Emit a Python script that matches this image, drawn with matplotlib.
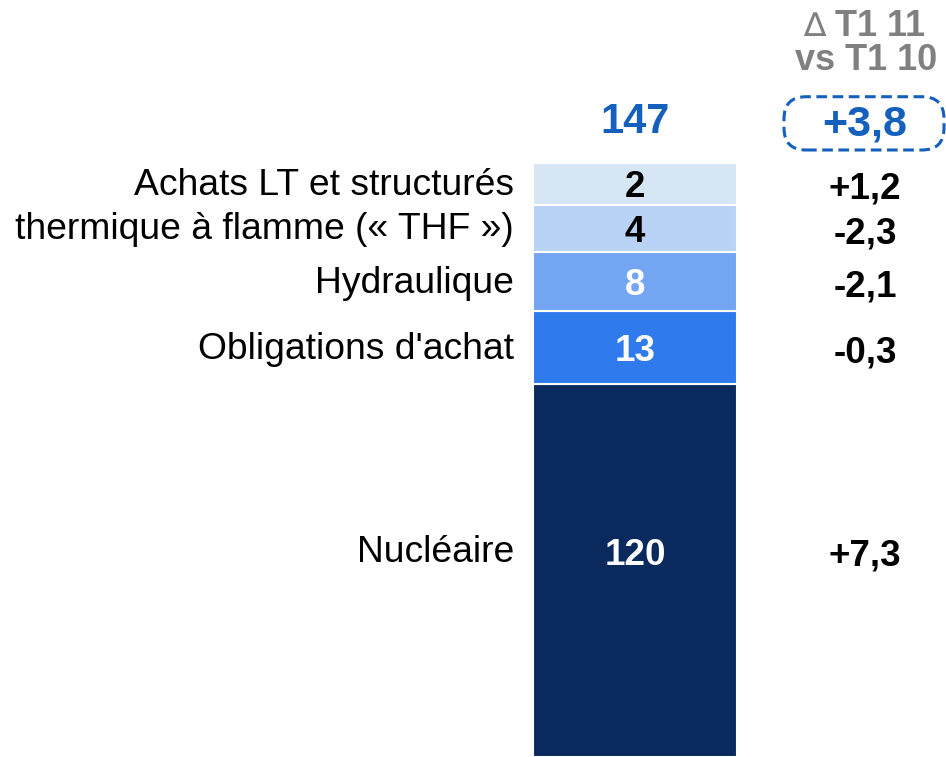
import matplotlib
matplotlib.use('Agg')
import matplotlib.pyplot as plt
from matplotlib.patches import FancyBboxPatch

plt.rcParams['font.family'] = ['Liberation Sans', 'DejaVu Sans']

# data, bottom to top
labels = ['Nucléaire', "Obligations d'achat", 'Hydraulique',
          'thermique à flamme (« THF »)', 'Achats LT et structurés']
values = [120, 13, 8, 4, 2]
deltas = ['+7,3', '-0,3', '-2,1', '-2,3', '+1,2']
total = 147
total_delta = '+3,8'
header_1 = 'T1 11'
header_2 = 'vs T1 10'

colors = ['#0A2A5E', '#2F7AEC', '#73A5F2', '#B9D3F7', '#D6E6F4']
text_colors = ['white', 'white', 'white', 'black', 'black']
blue = '#1560BD'
grey = '#808080'
pad = 13  # small segments are drawn a bit taller so the labels fit

fig = plt.figure(figsize=(9.46, 7.57), dpi=100)
ax = fig.add_axes([0, 0, 1, 1])
ax.set_xlim(0, 946)
ax.set_ylim(0, 270)
ax.axis('off')

bar_x = 635
bottom = 0
for lab, v, d, c, tc in zip(labels, values, deltas, colors, text_colors):
    h = v + pad
    ax.bar(bar_x, h, width=204, bottom=bottom, color=c,
           edgecolor='white', linewidth=1.5)
    # labels sit a little below the middle, and higher up in the tall segment
    yc = bottom + min(h / 2, 61) - 1.5 if v < 100 else bottom + h - 61
    ax.text(bar_x, yc, str(v), ha='center', va='center',
            fontsize=26.5, fontweight='bold', color=tc)
    ax.text(514, yc + 1, lab, ha='right', va='center', fontsize=26.8,
            color='black')
    ax.text(865, yc - 0.3, d, ha='center', va='center',
            fontsize=26.5, fontweight='bold', color='black')
    bottom += h

# total above the bar
ax.text(bar_x, bottom + 14.5, str(total), ha='center', va='center',
        fontsize=30, fontweight='bold', color=blue)
ax.text(865, bottom + 13.5, total_delta, ha='center', va='center',
        fontsize=31, fontweight='bold', color=blue)
box = FancyBboxPatch((784, bottom + 4.5), 160, 19,
                     boxstyle='round,pad=0,rounding_size=22',
                     mutation_aspect=1 / 2.8,
                     fill=False, edgecolor=blue, linewidth=2.2,
                     linestyle=(0, (3.5, 1.8)), clip_on=False)
ax.add_patch(box)

# column header
fig.text(814 / 946, 1 - 26 / 757, '\u2206', ha='center', va='center',
         fontsize=24, family='DejaVu Sans', color=grey)
fig.text(880 / 946, 1 - 26 / 757, header_1, ha='center', va='center',
         fontsize=26, fontweight='bold', color=grey)
fig.text(866 / 946, 1 - 60 / 757, header_2, ha='center', va='center',
         fontsize=26, fontweight='bold', color=grey)

fig.savefig('out.png', dpi=100)
